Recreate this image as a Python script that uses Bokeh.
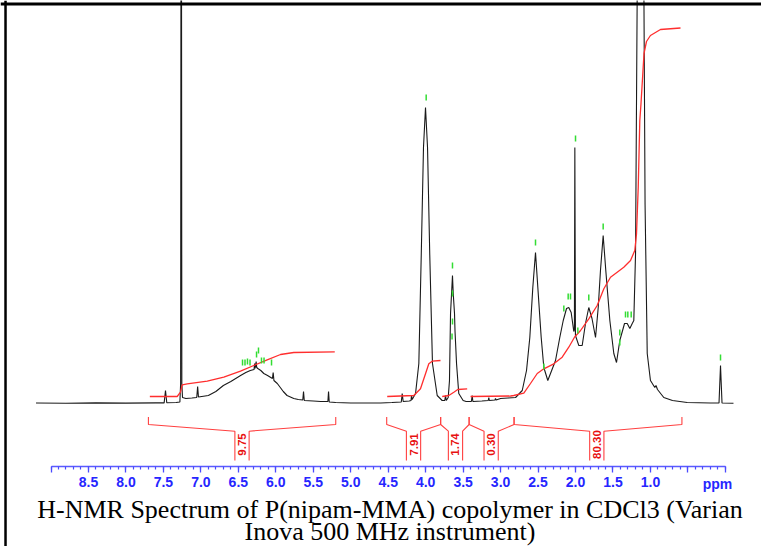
import math
from bokeh.plotting import figure
from bokeh.models import Range1d, LinearAxis, FixedTicker, Label, Span, ColumnDataSource
from bokeh.embed import file_html
from bokeh.resources import INLINE
from bokeh.core.properties import value

# ---------------- data ----------------
# 1H spectrum trace: chemical shift (ppm) and intensity (arbitrary units)
spec_ppm = [9.20, 8.80, 8.40, 8.00, 7.60,
            7.49, 7.472, 7.455, 7.33,
            7.28, 7.270, 7.262, 7.254, 7.245,
            7.20, 7.12,
            7.055, 7.043, 7.032,
            6.90, 6.80, 6.70, 6.60, 6.47, 6.40, 6.34,
            6.29, 6.283, 6.276, 6.262, 6.255, 6.24,
            6.20, 6.16, 6.11,
            6.045, 6.035, 6.025,
            5.98, 5.94, 5.90, 5.85, 5.76, 5.70,
            5.64, 5.630, 5.62, 5.50, 5.40,
            5.305, 5.296, 5.287, 5.20, 5.00, 4.80, 4.60, 4.45,
            4.325, 4.313, 4.30, 4.22, 4.195, 4.189, 4.18,
            4.135, 4.091, 4.059, 4.029, 4.002, 3.975, 3.945, 3.909, 3.846, 3.78,
            3.745, 3.735, 3.725,
            3.699, 3.682, 3.668, 3.642, 3.632, 3.615, 3.608, 3.588, 3.558, 3.50, 3.46,
            3.39, 3.379, 3.37, 3.25,
            3.165, 3.157, 3.15,
            3.075, 3.068, 3.06, 3.00, 2.90,
            2.80, 2.711, 2.654, 2.610, 2.570, 2.534, 2.503, 2.458, 2.423, 2.370,
            2.267, 2.210, 2.164, 2.120, 2.090, 2.058, 2.023,
            2.015, 2.009, 2.001,
            1.956, 1.911, 1.867, 1.823, 1.780, 1.733,
            1.697, 1.667, 1.631, 1.596, 1.542, 1.489, 1.453,
            1.409, 1.346, 1.310, 1.275, 1.243, 1.222, 1.199,
            1.176, 1.132, 1.088, 1.072, 1.043, 1.000, 0.942, 0.926, 0.906, 0.822, 0.706, 0.510, 0.200,
            0.085, 0.065, 0.045, -0.108]
spec_int = [0.5, 0.3, 0.6, 0.4, 0.6,
            0.6, 13, 0.8, 1.0,
            1.5, 20, 800, 20, 6,
            5, 5.5,
            6, 17, 6.5,
            8, 12, 18, 22, 28, 31, 33,
            34, 40, 35, 42, 36, 35,
            33, 30, 28,
            25, 31, 23,
            20, 16, 12, 8, 5, 4,
            3.5, 12, 3, 2.5, 2,
            2, 12, 1.5, 1, 0.5, 0.5, 0.5, 1,
            1.5, 10, 2, 2.5, 3, 8, 4,
            10, 40, 148, 256, 296, 256, 148, 40, 8, 3,
            3, 8, 3,
            6, 23, 90, 128, 110, 90, 72, 40, 10, 3, 2,
            2, 8, 2, 2.5,
            3, 6, 3,
            3.5, 5, 3.5, 5, 5.5,
            6, 13, 33, 66, 116, 151, 116, 66, 36, 23,
            43, 66, 83, 95, 96, 91, 72,
            74, 256, 68,
            58, 58, 80, 96, 85, 66,
            96, 133, 168, 133, 83, 50, 41,
            63, 80, 80, 75, 80, 83, 150,
            420, 1500, 420, 200, 50, 23, 16, 18, 14, 6, 3, 1, 0.5,
            0.5, 38, 0.5, 0.3]

# integral curves (ppm, cumulative height)
int1_ppm = [7.681, 7.316, 7.272, 7.249, 7.182, 6.915, 6.694, 6.471, 6.294, 6.115, 5.937, 5.760, 5.213]
int1_val = [7, 7, 11.3, 18.7, 19.7, 22.3, 26.3, 32.3, 38, 43.7, 49, 51, 51.7]
int2_ppm = [4.513, 4.158, 4.069, 4.002, 3.958, 3.913, 3.802]
int2_val = [7, 8, 14.7, 29.7, 39.7, 42.3, 43]
int3_ppm = [3.779, 3.691, 3.624, 3.571, 3.446]
int3_val = [7, 8, 11.3, 14, 14.7]
int4_ppm = [3.401, 2.867, 2.824, 2.690, 2.601, 2.511, 2.423, 2.290, 2.178, 2.090, 2.014, 1.933,
            1.823, 1.711, 1.622, 1.533, 1.444, 1.356, 1.266, 1.209, 1.186, 1.163, 1.142,
            1.126, 1.102, 1.086, 1.053, 1.000, 0.866, 0.599]
int4_val = [7, 7.5, 8, 10.3, 20, 30, 34.7, 39.7, 46.3, 56.3, 66.3, 73,
            84.7, 98, 114.7, 126.3, 131.3, 136.3, 143, 153, 169.7, 216.3, 283,
            300, 330, 350, 362, 368, 374, 375.5]

# integration regions and values
int_start = [7.70, 4.52, 3.80, 3.42, 2.82]
int_end = [5.20, 3.80, 3.42, 2.82, 0.58]
int_label_ppm = [6.451, 4.162, 3.602, 3.126, 1.716]
int_values = ["9.75", "7.91", "1.74", "0.30", "80.30"]

# peak-pick markers (ppm, intensity at marker foot)
mark_ppm = [3.993, 3.642, 3.642, 3.642, 3.648, 2.534, 2.000, 1.631, 1.823, 2.098, 2.067,
            2.156, 1.969, 2.423, 1.409, 1.409, 1.333, 1.302, 1.257, 0.065,
            6.444, 6.411, 6.378, 6.344, 6.257, 6.231, 6.191, 6.157, 6.057]
mark_int = [303, 135, 107, 79, 64, 158, 262, 174, 103, 104, 104,
            92, 70, 34, 58, 68, 86, 86, 86, 43,
            38, 38, 39, 38, 46, 50, 40, 40, 38]

# axis ticks
major_ticks = [9.0, 8.5, 8.0, 7.5, 7.0, 6.5, 6.0, 5.5, 5.0, 4.5, 4.0, 3.5, 3.0, 2.5, 2.0, 1.5, 1.0, 0.5, 0.0]
tick_labels = ["", "8.5", "8.0", "7.5", "7.0", "6.5", "6.0", "5.5", "5.0", "4.5", "4.0", "3.5",
               "3.0", "2.5", "2.0", "1.5", "1.0", "", ""]
minor_ticks = [round(9.0 - 0.1 * i, 1) for i in range(91)]

caption_1 = "H-NMR Spectrum of P(nipam-MMA) copolymer in CDCl3 (Varian"
caption_2 = "Inova 500 MHz instrument)"

# ---------------- figure ----------------
p = figure(width=761, height=546, output_backend="svg", toolbar_location=None,
           x_range=Range1d(9.674, -0.482), y_range=Range1d(-143, 403),
           x_axis_type=None, y_axis_type=None, min_border=0)
p.outline_line_color = None
p.background_fill_color = "white"
p.border_fill_color = "white"

# frame lines (top and left)
p.add_layout(Span(location=399.5, dimension="width", line_color="black", line_width=3))
p.add_layout(Span(location=9.607, dimension="height", line_color="black", line_width=2.5))

# spectrum
p.line(spec_ppm, spec_int, line_color="#1a1a1a", line_width=1.1)

# integrals
p.multi_line([int1_ppm, int2_ppm, int3_ppm, int4_ppm], [int1_val, int2_val, int3_val, int4_val],
             line_color="#ff2e2e", line_width=1.3)

# peak markers
p.segment(x0=mark_ppm, y0=mark_int, x1=mark_ppm, y1=[v + 6 for v in mark_int],
          line_color="#33dd33", line_width=1.5)

# integration brackets
d = 0.095
y_top, y_end, y_in, y_bot = -13.5, -21, -27.7, -57
bx, by = [], []
for s, e, lab in zip(int_start, int_end, int_label_ppm):
    bx.append([s, s, lab + d, lab + d])
    by.append([y_top, y_end, y_in, y_bot])
    bx.append([lab - d, lab - d, e, e])
    by.append([y_bot, y_in, y_end, y_top])
p.multi_line(bx, by, line_color="#ff4040", line_width=1.1)

src = ColumnDataSource(dict(x=int_label_ppm, y=[-41] * len(int_values), t=int_values))
p.text(x="x", y="y", text="t", source=src, angle=math.pi / 2, text_align="center",
       text_baseline="middle", text_color="#e81010", text_font=value("Liberation Sans"),
       text_font_style="bold", text_font_size="11.5px")

# ppm axis
ax = LinearAxis(fixed_location=-63)
ax.ticker = FixedTicker(ticks=major_ticks, minor_ticks=minor_ticks)
ax.major_label_overrides = {t: l for t, l in zip(major_ticks, tick_labels)}
ax.bounds = (0.0, 9.0)
ax.axis_line_color = "#5a5aff"
ax.axis_line_width = 1.3
ax.major_tick_line_color = "#4a4aff"
ax.major_tick_line_width = 1.3
ax.major_tick_in = 0
ax.major_tick_out = 6
ax.minor_tick_line_color = "#4a4aff"
ax.minor_tick_line_width = 1.2
ax.minor_tick_in = 0
ax.minor_tick_out = 3
ax.major_label_text_color = "#2626ff"
ax.major_label_text_font = "Liberation Sans"
ax.major_label_text_font_style = "bold"
ax.major_label_text_font_size = "14px"
ax.major_label_standoff = 4
p.add_layout(ax, "below")

p.add_layout(Label(x=0.105, y=-80, text="ppm", text_align="center", text_baseline="middle",
                   text_color="#2626ff", text_font="Liberation Sans", text_font_style="bold",
                   text_font_size="14px"))

# caption
p.add_layout(Label(x=4.476, y=-105.5, text=caption_1, text_align="center", text_baseline="middle",
                   text_color="black", text_font="Liberation Serif", text_font_size="26px"))
p.add_layout(Label(x=4.476, y=-128, text=caption_2, text_align="center", text_baseline="middle",
                   text_color="black", text_font="Liberation Serif", text_font_size="26px"))

open("out.html", "w").write(file_html(p, INLINE))
